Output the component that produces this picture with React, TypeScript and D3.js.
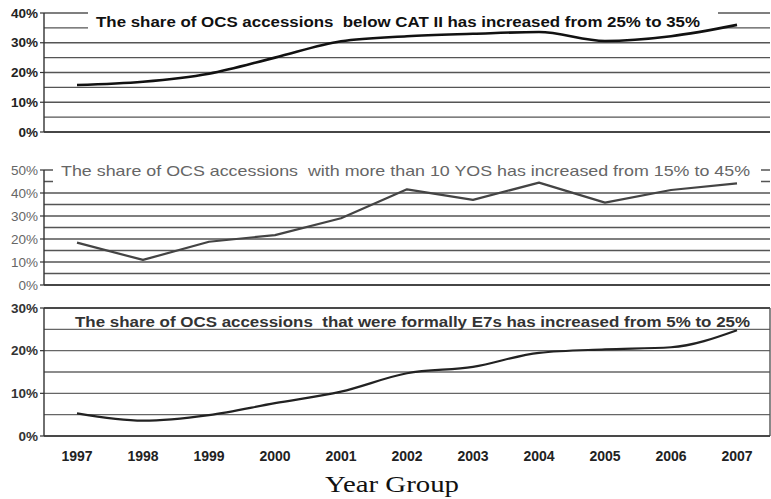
import React from "react";
import * as d3 from "d3";

const years = ["1997","1998","1999","2000","2001","2002","2003","2004","2005","2006","2007"];
const belowCat2 = [15.8, 16.9, 19.6, 25.0, 30.5, 32.2, 33.0, 33.6, 30.6, 32.2, 36.0];
const over10Yos = [18.4, 10.9, 18.8, 21.7, 29.0, 41.6, 37.0, 44.5, 35.8, 41.3, 44.2];
const formerE7 = [5.3, 3.6, 4.9, 7.7, 10.4, 14.7, 16.2, 19.5, 20.3, 20.8, 24.8];
const ticks1 = [0, 10, 20, 30, 40];
const ticks2 = [0, 10, 20, 30, 40, 50];
const ticks3 = [0, 10, 20, 30];
const title1 = "The share of OCS accessions  below CAT II has increased from 25% to 35%";
const title2 = "The share of OCS accessions  with more than 10 YOS has increased from 15% to 45%";
const title3 = "The share of OCS accessions  that were formally E7s has increased from 5% to 25%";

const FONT = "'Liberation Sans', Arial, sans-serif";

const x = d3.scalePoint<string>().domain(years).range([44, 770]).padding(0.5);

type PanelProps = {
  values: number[];
  ticks: number[];
  max: number;
  top: number;
  bottom: number;
  title: string;
  titleX: number;
  titleW: number;
  titleY: number;
  box?: [number, number, number, number];
  textColor: string;
  textWeight: string | number;
  labelColor: string;
  labelWeight: string | number;
  lineColor: string;
  lineWidth: number;
  gridColor: string;
  curve: d3.CurveFactory;
  frame?: boolean;
};

function Panel(p: PanelProps) {
  const y = d3.scaleLinear().domain([0, p.max]).range([p.bottom, p.top]);
  const grid = d3.range(0, p.max + 0.01, 5);
  const line = d3
    .line<number>()
    .x((_, i) => x(years[i]) as number)
    .y((v) => y(v))
    .curve(p.curve);
  return (
    <g>
      {grid.map((g) => (
        <line key={g} x1={44} x2={770} y1={y(g)} y2={y(g)} stroke={p.gridColor} strokeWidth={1.4} />
      ))}
      {p.box && <rect x={p.box[0]} y={p.box[1]} width={p.box[2]} height={p.box[3]} fill="#fff" />}
      <line x1={44} x2={44} y1={y(p.max)} y2={p.bottom} stroke="#333" strokeWidth={1.4} />
      {p.frame && (
        <>
          <line x1={44} x2={770} y1={y(p.max)} y2={y(p.max)} stroke="#333" strokeWidth={1.6} />
          <line x1={770} x2={770} y1={y(p.max)} y2={p.bottom} stroke="#555" strokeWidth={1.4} />
        </>
      )}
      <line x1={44} x2={770} y1={p.bottom} y2={p.bottom} stroke="#333" strokeWidth={1.6} />
      {p.ticks.map((t) => (
        <g key={t}>
          <line x1={40} x2={44} y1={y(t)} y2={y(t)} stroke="#333" strokeWidth={1.2} />
          <text
            x={38}
            y={y(t)}
            dy="0.35em"
            textAnchor="end"
            fontFamily={FONT}
            fontSize={13.5}
            fontWeight={p.labelWeight}
            fill={p.labelColor}
          >
            {t}%
          </text>
        </g>
      ))}
      <text
        x={p.titleX}
        y={p.titleY}
        fontFamily={FONT}
        fontSize={14.5}
        fontWeight={p.textWeight}
        fill={p.textColor}
        textLength={p.titleW}
        lengthAdjust="spacingAndGlyphs"
        style={{ whiteSpace: "pre" }}
      >
        {p.title}
      </text>
      <path d={line(p.values) || ""} fill="none" stroke={p.lineColor} strokeWidth={p.lineWidth} strokeLinejoin="round" />
    </g>
  );
}

export default function App() {
  return (
    <svg width={771} height={499} style={{ display: "block", position: "absolute", left: 0, top: 0, background: "#fff" }}>
      <rect x={0} y={0} width={771} height={499} fill="#fff" />
      <Panel
        values={belowCat2}
        ticks={ticks1}
        max={40}
        top={13}
        bottom={132}
        title={title1}
        titleX={96}
        titleW={604}
        titleY={27}
        box={[88, 6, 630, 26]}
        textColor="#111"
        textWeight="bold"
        labelColor="#222"
        labelWeight="bold"
        lineColor="#111"
        lineWidth={2.6}
        gridColor="#555"
        curve={d3.curveMonotoneX}
      />
      <Panel
        values={over10Yos}
        ticks={ticks2}
        max={50}
        top={170}
        bottom={285}
        title={title2}
        titleX={61}
        titleW={689}
        titleY={176}
        box={[53, 160, 708, 24]}
        textColor="#666"
        textWeight="normal"
        labelColor="#666"
        labelWeight="normal"
        lineColor="#444"
        lineWidth={2.2}
        gridColor="#555"
        curve={d3.curveLinear}
      />
      <Panel
        values={formerE7}
        ticks={ticks3}
        max={30}
        top={308}
        bottom={436}
        title={title3}
        titleX={75}
        titleW={675}
        titleY={327}
        textColor="#333"
        textWeight={600}
        labelColor="#333"
        labelWeight="bold"
        lineColor="#222"
        lineWidth={2.2}
        gridColor="#666"
        curve={d3.curveMonotoneX}
        frame
      />
      {years.map((yr) => (
        <text
          key={yr}
          x={x(yr) as number}
          y={461}
          textAnchor="middle"
          fontFamily={FONT}
          fontSize={14}
          fontWeight="bold"
          fill="#222"
        >
          {yr}
        </text>
      ))}
      <text
        x={392}
        y={492}
        textAnchor="middle"
        fontFamily="'Liberation Serif', 'DejaVu Serif', serif"
        fontSize={24}
        fill="#111"
        textLength={134}
        lengthAdjust="spacingAndGlyphs"
      >
        Year Group
      </text>
    </svg>
  );
}
